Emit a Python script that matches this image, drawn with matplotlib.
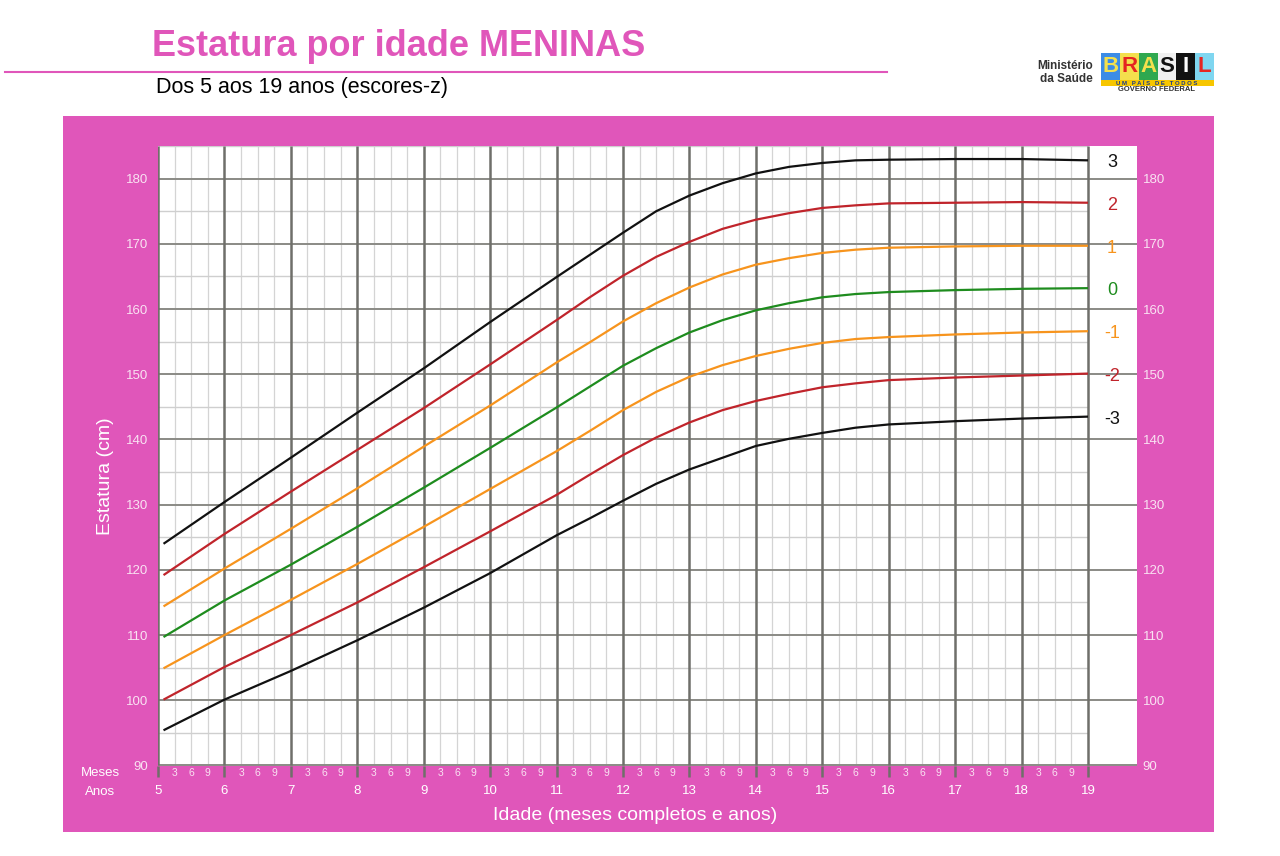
import matplotlib
matplotlib.use("Agg")
import matplotlib.pyplot as plt
from matplotlib.patches import Rectangle
from matplotlib.lines import Line2D

plt.rcParams['font.family'] = ['Liberation Sans', 'DejaVu Sans']

# ---------------- data ----------------
ages = [5.083, 6, 7, 8, 9, 10, 11, 11.5, 12, 12.5, 13, 13.5, 14, 14.5, 15, 15.5, 16, 17, 18, 19]
z_p3 = [124.0, 130.4, 137.2, 144.1, 150.9, 158.0, 164.9, 168.3, 171.7, 175.0, 177.4, 179.3, 180.8, 181.8, 182.4, 182.8, 182.9, 183.0, 183.0, 182.8]
z_p2 = [119.2, 125.5, 132.0, 138.4, 144.8, 151.5, 158.3, 161.8, 165.1, 168.0, 170.3, 172.3, 173.7, 174.7, 175.5, 175.9, 176.2, 176.3, 176.4, 176.3]
z_p1 = [114.4, 120.2, 126.3, 132.5, 138.9, 145.2, 151.8, 154.9, 158.1, 160.9, 163.3, 165.3, 166.8, 167.8, 168.6, 169.1, 169.4, 169.6, 169.7, 169.7]
z_0 = [109.7, 115.3, 120.8, 126.6, 132.6, 138.7, 144.9, 148.1, 151.3, 154.0, 156.4, 158.3, 159.8, 160.9, 161.8, 162.3, 162.6, 162.9, 163.1, 163.2]
z_m1 = [104.9, 110.0, 115.4, 120.9, 126.6, 132.4, 138.2, 141.3, 144.5, 147.3, 149.6, 151.4, 152.8, 153.9, 154.8, 155.4, 155.7, 156.1, 156.4, 156.6]
z_m2 = [100.1, 105.1, 110.0, 115.0, 120.4, 125.9, 131.5, 134.6, 137.6, 140.3, 142.6, 144.5, 145.9, 147.0, 148.0, 148.6, 149.1, 149.5, 149.8, 150.1]
z_m3 = [95.4, 100.1, 104.5, 109.2, 114.2, 119.5, 125.3, 127.9, 130.6, 133.2, 135.4, 137.2, 139.0, 140.1, 141.0, 141.8, 142.3, 142.8, 143.2, 143.5]

curve_labels = ['3', '2', '1', '0', '-1', '-2', '-3']
year_ticks = list(range(5, 20))
month_labels = ['3', '6', '9']
height_ticks = list(range(90, 190, 10))

title = "Estatura por idade MENINAS"
subtitle = "Dos 5 aos 19 anos (escores-z)"
xlabel = "Idade (meses completos e anos)"
ylabel = "Estatura (cm)"

# ---------------- style ----------------
PINK = '#E056BA'
BLACK = '#111111'
RED = '#C0242B'
ORANGE = '#F7941D'
GREEN = '#1E8C1E'
LABEL_PINK = '#f9e3f2'
curve_colors = [BLACK, RED, ORANGE, GREEN, ORANGE, RED, BLACK]
series = [z_p3, z_p2, z_p1, z_0, z_m1, z_m2, z_m3]

W, H = 1280, 856
fig = plt.figure(figsize=(W / 100, H / 100), dpi=100)
fig.patch.set_facecolor('white')

def fx(px):
    return px / W

def fy(py):
    return 1 - py / H

# pink panel (behind axes)
fig.patches.append(Rectangle((fx(63), fy(832)), fx(1214 - 63), (832 - 116) / H,
                             transform=fig.transFigure, facecolor=PINK, edgecolor='none', zorder=-5))

# title & subtitle
fig.text(fx(152), fy(47), title, color=PINK, fontsize=26, fontweight='bold', va='center', ha='left')
fig.add_artist(Line2D([fx(5), fx(887)], [fy(72), fy(72)], color=PINK, lw=1.5, transform=fig.transFigure))
fig.text(fx(156), fy(88), subtitle, color='black', fontsize=15.5, va='center', ha='left')

# logo approximation
fig.text(fx(1093), fy(66), "Ministério", fontsize=8.5, fontweight='bold', color='#333333', ha='right', va='center')
fig.text(fx(1093), fy(79), "da Saúde", fontsize=8.5, fontweight='bold', color='#333333', ha='right', va='center')
logo_cols = ['#3C8CE6', '#F4E04D', '#2FA84F', '#F0F0F0', '#111111', '#7FD6F0']
letter_cols = ['#F4E04D', '#E52521', '#F4E04D', '#111111', '#FFFFFF', '#E52521']
bw = (1214 - 1101) / 6
for i, (bc, lc, ch) in enumerate(zip(logo_cols, letter_cols, "BRASIL")):
    x0 = 1101 + i * bw
    fig.patches.append(Rectangle((fx(x0), fy(80)), fx(bw), 27 / H, transform=fig.transFigure,
                                 facecolor=bc, edgecolor='none', zorder=1))
    fig.text(fx(x0 + bw / 2), fy(67), ch, fontsize=16, fontweight='bold', color=lc,
             ha='center', va='center', zorder=2)
fig.patches.append(Rectangle((fx(1101), fy(86)), fx(113), 6 / H, transform=fig.transFigure,
                             facecolor='#F7C600', edgecolor='none', zorder=1))
fig.text(fx(1157), fy(83.2), "U M   P A Í S   D E   T O D O S", fontsize=4.3, fontweight='bold', color='#1a3a8a',
         ha='center', va='center', zorder=2)
fig.text(fx(1157), fy(89.5), "GOVERNO FEDERAL", fontsize=5.5, fontweight='bold', color='#333333',
         ha='center', va='center', zorder=2)

# ---------------- axes ----------------
left, right, top, bottom = 158, 1137, 146, 765.5
ax = fig.add_axes([fx(left), fy(bottom), fx(right - left), (bottom - top) / H])
ax.set_facecolor('white')
px_per_year = (1088 - 158) / 14
xmax = 5 + (right - left) / px_per_year
ax.set_xlim(5, xmax)
ax.set_ylim(90, 185)
for s in ax.spines.values():
    s.set_visible(False)

# grid
quarters = [y + q / 4 for y in range(5, 19) for q in (1, 2, 3)]
ax.vlines(quarters, 90, 185, color='#d4d4d4', lw=0.9, zorder=1)
half = [v for v in range(95, 186, 10)]
ax.hlines(half, 5, 19, color='#cfcfcf', lw=1.0, zorder=1)
ax.hlines(height_ticks, 5, xmax, color='#8a8a85', lw=1.4, zorder=2)
ax.vlines(year_ticks, 90, 185, color='#6f6f6a', lw=1.8, zorder=2)

# curves
for vals, col, lab in zip(series, curve_colors, curve_labels):
    ax.plot(ages, vals, color=col, lw=1.6, zorder=3, solid_capstyle='butt', solid_joinstyle='round')
    ax.text(19.36, vals[-1] - 0.4, lab, color=col, fontsize=13, ha='center', va='center', zorder=4)

# ticks
ax.set_yticks(height_ticks)
ax.set_yticklabels([str(v) for v in height_ticks])
ax.tick_params(axis='y', length=0, pad=7, labelsize=9.5, labelcolor=LABEL_PINK,
               left=False, right=False, labelleft=True, labelright=False)
sec = ax.secondary_yaxis('right')
sec.set_yticks(height_ticks)
sec.set_yticklabels([str(v) for v in height_ticks])
sec.tick_params(axis='y', length=0, pad=4, labelsize=9.5, labelcolor=LABEL_PINK)
for s in sec.spines.values():
    s.set_visible(False)

ax.set_xticks(year_ticks)
ax.set_xticklabels([str(v) for v in year_ticks])
ax.set_xticks(quarters, minor=True)
ax.set_xticklabels([month_labels[i % 3] for i in range(len(quarters))], minor=True)
ax.tick_params(axis='x', which='major', length=8, width=1.8, color='#6f6f6a', pad=6,
               labelsize=9.5, labelcolor='white')
ax.tick_params(axis='x', which='minor', length=0, pad=1.5, labelsize=7.5, labelcolor=LABEL_PINK)

fig.text(fx(100), fy(773), "Meses", fontsize=9.5, color='white', ha='center', va='center')
fig.text(fx(100), fy(792), "Anos", fontsize=9.5, color='white', ha='center', va='center')
fig.text(fx(106), fy(476), ylabel, fontsize=14, color='white', ha='center', va='center', rotation=90)
fig.text(fx(635), fy(815), xlabel, fontsize=14, color='white', ha='center', va='center')

fig.savefig('out.png', dpi=100, facecolor=fig.get_facecolor())
